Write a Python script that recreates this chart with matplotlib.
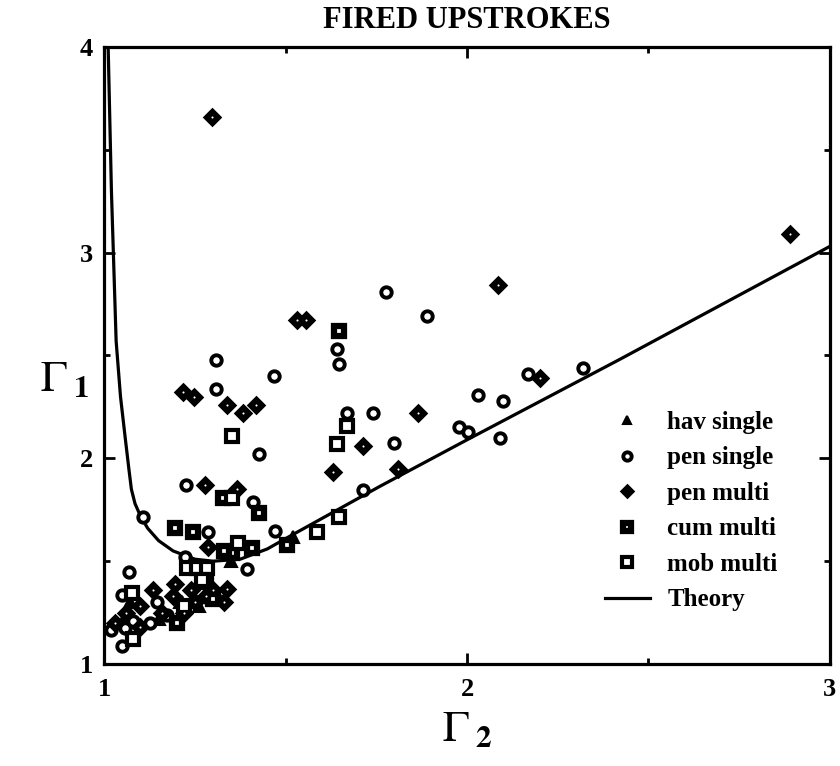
import matplotlib
matplotlib.use('Agg')
import matplotlib.pyplot as plt
from matplotlib.ticker import MultipleLocator

plt.rcParams['font.family'] = ['Liberation Serif', 'DejaVu Serif']
plt.rcParams['mathtext.fontset'] = 'stix'

# values (Gamma2, Gamma1)
hav_x = [1.05, 1.07, 1.15, 1.21, 1.215, 1.26, 1.31, 1.52, 1.35]
hav_y = [1.20, 1.30, 1.22, 1.30, 1.30, 1.28, 1.34, 1.62, 1.50]

pen_single_x = [1.309, 1.468, 1.642, 1.647, 1.89, 1.777, 1.309, 1.67, 1.741, 1.80,
                1.427, 1.978, 2.003, 2.03, 2.10, 2.09, 2.168, 2.32, 1.226, 1.41,
                1.713, 1.47, 1.287, 1.223, 1.107, 1.394, 1.069,
                1.05, 1.02, 1.08, 1.058, 1.08, 1.127, 1.146, 1.174, 1.05]
pen_single_y = [2.476, 2.40, 2.53, 2.46, 2.69, 2.806, 2.335, 2.22, 2.22, 2.073,
                2.02, 2.15, 2.126, 2.306, 2.277, 2.10, 2.41, 2.44, 1.869, 1.786,
                1.845, 1.646, 1.64, 1.52, 1.714, 1.46, 1.447,
                1.09, 1.165, 1.12, 1.175, 1.21, 1.20, 1.30, 1.238, 1.335]

pen_multi_x = [1.298, 2.89, 2.085, 1.532, 1.556, 1.218, 1.248, 1.339, 1.383, 1.419,
               1.865, 1.713, 1.631, 1.81, 1.278, 1.366, 2.20, 1.287, 1.339,
               1.135, 1.196, 1.03, 1.06, 1.10, 1.10, 1.16, 1.22, 1.25, 1.28, 1.30,
               1.33, 1.19, 1.24]
pen_multi_y = [3.66, 3.09, 2.84, 2.67, 2.67, 2.32, 2.30, 2.257, 2.22, 2.257,
               2.22, 2.058, 1.932, 1.95, 1.869, 1.85, 2.39, 1.568, 1.364,
               1.36, 1.39, 1.20, 1.25, 1.28, 1.18, 1.25, 1.25, 1.30, 1.33, 1.36,
               1.30, 1.33, 1.36]

cum_x = [1.647, 1.328, 1.427, 1.504, 1.245, 1.196, 1.408, 1.353, 1.33, 1.30, 1.20, 1.28]
cum_y = [2.617, 1.806, 1.733, 1.578, 1.64, 1.66, 1.563, 1.54, 1.55, 1.316, 1.20, 1.40]

mob_x = [1.353, 1.67, 1.642, 1.353, 1.647, 1.587, 1.229, 1.256, 1.284, 1.27, 1.077,
         1.08, 1.22, 1.37]
mob_y = [2.107, 2.155, 2.068, 1.806, 1.714, 1.64, 1.465, 1.465, 1.465, 1.41, 1.345,
         1.12, 1.28, 1.59]

theory_x = [1.011, 1.02, 1.033, 1.045, 1.058, 1.068, 1.075, 1.085, 1.10, 1.12,
            1.15, 1.19, 1.25, 1.30, 1.375, 1.45, 1.5, 1.76, 2.0, 2.42, 3.0]
theory_y = [4.0, 3.3, 2.57, 2.30, 2.10, 1.95, 1.85, 1.78, 1.72, 1.66,
            1.60, 1.55, 1.51, 1.50, 1.51, 1.56, 1.61, 1.864, 2.09, 2.48, 3.03]

fig = plt.figure(figsize=(8.4, 7.66), dpi=100)
ax = fig.add_axes([0.124, 0.133, 0.864, 0.806])

ax.plot(theory_x, theory_y, color='black', lw=2.3, label='Theory', zorder=2)
ax.plot(hav_x, hav_y, linestyle='none', marker='^', ms=8, mfc='black', mec='black',
        mew=1.5, label='hav single', zorder=3)
ax.plot(pen_single_x, pen_single_y, linestyle='none', marker='o', ms=7.5, mfc='white',
        mec='black', mew=2.8, label='pen single', zorder=3)
ax.plot(pen_multi_x, pen_multi_y, linestyle='none', marker='D', ms=8, mfc='black',
        mec='black', mew=1.8, label='pen multi', zorder=3)
ax.plot(pen_multi_x, pen_multi_y, linestyle='none', marker='o', ms=1.5, mfc='white',
        mec='white', mew=0, zorder=4)
ax.plot(cum_x, cum_y, linestyle='none', marker='s', ms=7.5, mfc='white', mec='black',
        mew=4.5, label='cum multi', zorder=3)
ax.plot(mob_x, mob_y, linestyle='none', marker='s', ms=8.5, mfc='white', mec='black',
        mew=3, label='mob multi', zorder=3)

ax.set_xlim(1, 3)
ax.set_ylim(1, 4)
ax.xaxis.set_major_locator(MultipleLocator(1))
ax.xaxis.set_minor_locator(MultipleLocator(0.5))
ax.yaxis.set_major_locator(MultipleLocator(1))
ax.yaxis.set_minor_locator(MultipleLocator(0.5))
ax.tick_params(which='both', direction='in', top=True, right=True, width=2)
ax.tick_params(which='major', length=8, labelsize=19, pad=10)
ax.tick_params(axis='y', which='major', pad=8)
ax.tick_params(which='minor', length=4)
for lab in ax.get_xticklabels() + ax.get_yticklabels():
    lab.set_fontweight('bold')
for sp in ax.spines.values():
    sp.set_linewidth(2.3)

fig.text(467 / 840, 1 - 21 / 766, 'FIRED UPSTROKES', fontsize=22, fontweight='bold',
         ha='center', va='center')
ax.set_xlabel(r'$\Gamma_{\;\mathbf{2}}$', fontsize=32)
ax.xaxis.set_label_coords(0.5, -0.075)
ax.set_ylabel(r'$\Gamma_{\;\mathbf{1}}$', fontsize=32, rotation=0, va='center')
ax.yaxis.set_label_coords(-0.055, 0.46)

handles, labels = ax.get_legend_handles_labels()
order = [1, 2, 3, 4, 5, 0]
ax.legend([handles[i] for i in order], [labels[i] for i in order],
          loc='upper left', bbox_to_anchor=(0.69, 0.41), frameon=False,
          borderpad=0, borderaxespad=0, handlelength=1.8, labelspacing=0.5,
          handletextpad=0.7, prop={'size': 18, 'weight': 'bold'}, markerscale=0.8)

fig.savefig('out.png', dpi=100)
